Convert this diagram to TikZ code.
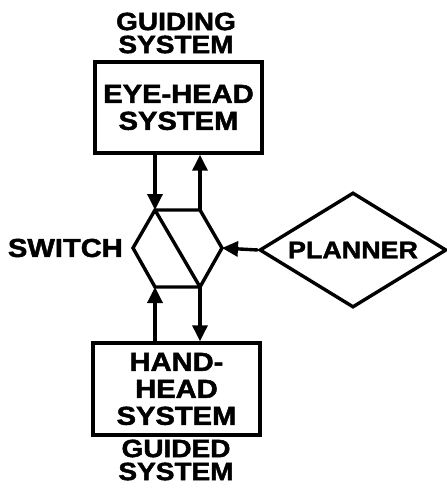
\documentclass[tikz,border=0pt]{standalone}
\usepackage{fontspec}
\setmainfont{Liberation Sans}[BoldFeatures={FakeBold=1.8, FakeStretch=1.12}]
\usetikzlibrary{shapes.geometric,arrows.meta}
\tikzset{
  lbl/.style={font=\bfseries\fontsize{25}{23}\selectfont, align=center, inner sep=0pt},
  sysbox/.style={draw, line width=3.4pt, minimum width=167pt, inner sep=0pt, align=center, font=\bfseries\fontsize{26}{27}\selectfont},
  conn/.style={line width=3.4pt},
  arr/.style={line width=3.4pt, -{Triangle[length=16pt,width=15pt]}},
}
\begin{document}
\begin{tikzpicture}[x=1pt,y=-1pt]
\useasboundingbox (0,0) rectangle (447,488);
% labels
\node[lbl] (guiding) at (176,33) {GUIDING\\SYSTEM};
\node[lbl] (guided) at (176,460) {GUIDED\\SYSTEM};
% boxes
\node[sysbox, minimum height=91pt] (eye) at (178.5,107.5) {EYE-HEAD\\SYSTEM};
\node[sysbox, minimum height=92pt] (hand) at (176.5,389) {HAND-\\HEAD\\SYSTEM};
% switch hexagon
\coordinate (hTL) at (155,210);
\coordinate (hTR) at (200,210);
\coordinate (hR) at (222,248);
\coordinate (hBR) at (200,287);
\coordinate (hBL) at (155,287);
\coordinate (hL) at (133,248);
\draw[conn, line join=miter] (hTL) -- (hTR) -- (hR) -- (hBR) -- (hBL) -- (hL) -- cycle;
\draw[conn] (hTL) -- (hBR);
\node[lbl, anchor=east, font=\bfseries\fontsize{26}{26}\selectfont] (switch) at (123,248) {SWITCH};
% planner
\node[draw, diamond, line width=3.4pt, aspect=1.63, minimum width=187pt, minimum height=115pt, inner sep=0pt, font=\bfseries\fontsize{24}{24}\selectfont] (planner) at (353,250) {PLANNER};
% connectors
\draw[arr] (eye.south -| hTL) -- (hTL);
\draw[arr] (hTR) -- (eye.south -| hTR);
\draw[arr] (hand.north -| hBL) -- (hBL);
\draw[arr] (hBR) -- (hand.north -| hBR);
\draw[arr] (planner.west) -- (hR);
\end{tikzpicture}
\end{document}
